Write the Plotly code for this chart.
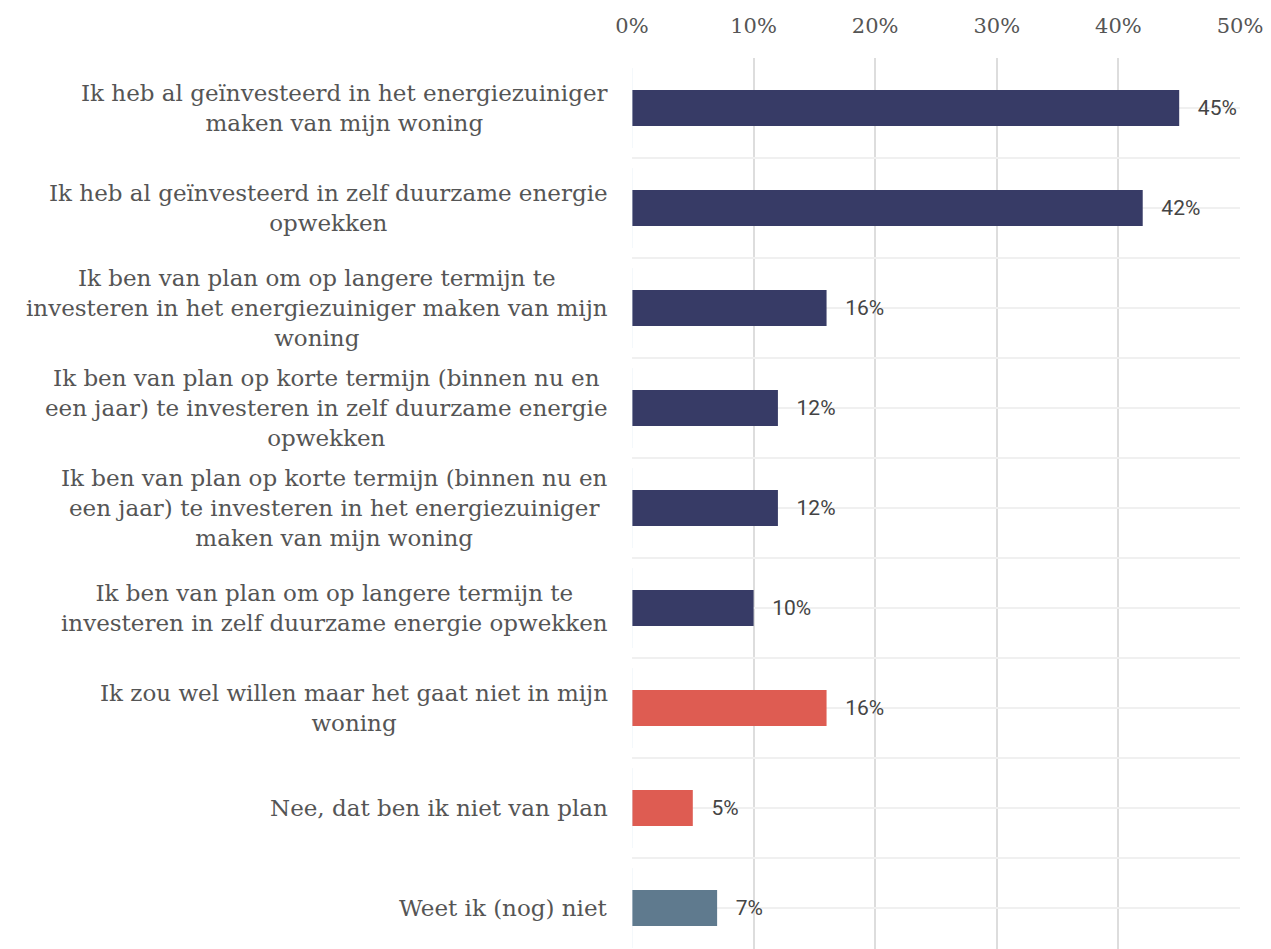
import plotly.graph_objects as go

categories = [
    "Ik heb al geïnvesteerd in het energiezuiniger<br>maken van mijn woning",
    "Ik heb al geïnvesteerd in zelf duurzame energie<br>opwekken",
    "Ik ben van plan om op langere termijn te<br>investeren in het energiezuiniger maken van mijn<br>woning",
    "Ik ben van plan op korte termijn (binnen nu en<br>een jaar) te investeren in zelf duurzame energie<br>opwekken",
    "Ik ben van plan op korte termijn (binnen nu en<br>een jaar) te investeren in het energiezuiniger<br>maken van mijn woning",
    "Ik ben van plan om op langere termijn te<br>investeren in zelf duurzame energie opwekken",
    "Ik zou wel willen maar het gaat niet in mijn<br>woning",
    "Nee, dat ben ik niet van plan",
    "Weet ik (nog) niet",
]
values = [45, 42, 16, 12, 12, 10, 16, 5, 7]
groups = ["ja", "ja", "ja", "ja", "ja", "ja", "nee", "nee", "weet"]
group_colors = {"ja": "#373b66", "nee": "#de5c52", "weet": "#5f7a8e"}
x_ticks = [0, 10, 20, 30, 40, 50]
x_tick_labels = [f"{v}%" for v in x_ticks]

colors = [group_colors[g] for g in groups]
keys = [str(i) for i in range(len(categories))]

fig = go.Figure()
fig.add_trace(go.Bar(
    x=values, y=keys, orientation="h",
    marker=dict(color=colors, line=dict(width=0)),
    width=0.36,
    text=[f"\u00a0\u00a0\u00a0{v}%" for v in values],
    textposition="outside",
    constraintext="none",
    textfont=dict(family="Roboto", size=21, color="#444444"),
    cliponaxis=False,
    hoverinfo="skip",
    showlegend=False,
))
# invisible trace for the boundary grid axis
fig.add_trace(go.Bar(
    x=[0] * len(keys), y=keys, orientation="h", yaxis="y2",
    marker=dict(color="rgba(0,0,0,0)"), hoverinfo="skip", showlegend=False,
))

for k, c in zip(keys, categories):
    fig.add_annotation(
        x=0, xref="paper", y=k, yref="y",
        text=c, showarrow=False, xanchor="right", yanchor="middle",
        xshift=-22, align="center",
        font=dict(family="DejaVu Serif", size=23, color="#555555"),
    )

fig.update_layout(
    width=1263, height=941,
    margin=dict(l=624, r=31, t=50, b=0),
    plot_bgcolor="white", paper_bgcolor="white",
    xaxis=dict(
        side="top", range=[0, 50], tickvals=x_ticks, ticktext=x_tick_labels,
        showgrid=True, gridcolor="#dddddd", gridwidth=2,
        zeroline=False, showline=False, ticks="",
        ticklabelstandoff=20,
        tickfont=dict(family="DejaVu Serif", size=21, color="#555555"),
        fixedrange=True,
    ),
    yaxis=dict(
        type="category", categoryorder="array", categoryarray=keys,
        range=[8.41, -0.5], showticklabels=False,
        showgrid=True, gridcolor="#f0f0f0", gridwidth=2,
        zeroline=False, showline=False, ticks="",
    ),
    yaxis2=dict(
        type="category", categoryorder="array", categoryarray=keys,
        overlaying="y", range=[8.41, -0.5], showticklabels=False,
        tickson="boundaries",
        showgrid=True, gridcolor="#f0f0f0", gridwidth=2,
        zeroline=False, showline=False, ticks="",
    ),
)

fig.write_html("out.html")
